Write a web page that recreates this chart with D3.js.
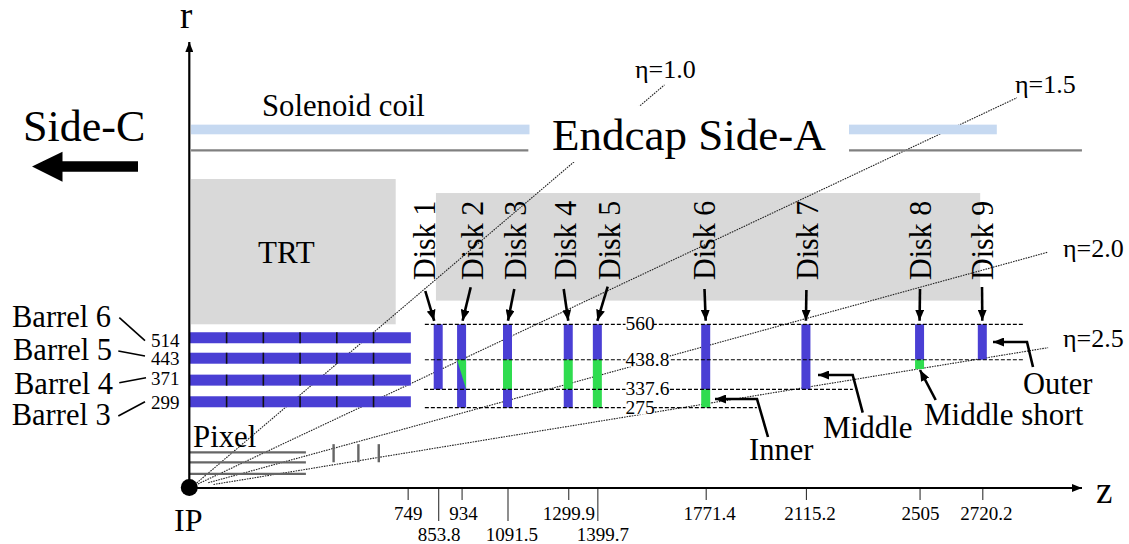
<!DOCTYPE html>
<html>
<head>
<meta charset="UTF-8">
<title>Endcap Side-A layout</title>
<script src="https://d3js.org/d3.v7.min.js"></script>
<style>
html, body { margin: 0; padding: 0; background: #fff; }
svg { display: block; }
text { font-family: "Liberation Serif", serif; fill: #000; }
</style>
</head>
<body>
<div id="chart"></div>
<script>
// all lengths in mm
var shortTicks = [749, 934, 1299.9, 1771.4, 2115.2, 2505, 2720.2];
var longTicks = [853.8, 1091.5, 1399.7];

var barrelNames = ["Barrel 6", "Barrel 5", "Barrel 4", "Barrel 3"];
var barrelLabels = [514, 443, 371, 299];
var barrelDrawnR = [514, 444, 369, 295]; // where the bars sit in the drawing, not quite to scale
var barrelEnd = 760;
var moduleEdges = [128, 254, 380, 506, 632];

var diskNames = ["Disk 1", "Disk 2", "Disk 3", "Disk 4", "Disk 5", "Disk 6", "Disk 7", "Disk 8", "Disk 9"];
var diskZ = [853.8, 934, 1091.5, 1299.9, 1399.7, 1771.4, 2115.2, 2505, 2720.2];

// ring limits per disk: [disk index, rMin, rMax, kind]
var ringSegments = [
  [0, 337.6, 560, "m"],
  [1, 275, 560, "m"],
  [2, 438.8, 560, "m"], [2, 337.6, 438.8, "s"], [2, 275, 337.6, "m"],
  [3, 438.8, 560, "m"], [3, 337.6, 438.8, "s"], [3, 275, 337.6, "m"],
  [4, 438.8, 560, "m"], [4, 275, 438.8, "s"],
  [5, 337.6, 560, "m"], [5, 275, 337.6, "s"],
  [6, 337.6, 560, "m"],
  [7, 438.8, 560, "m"], [7, 407, 438.8, "s"],
  [8, 438.8, 560, "m"]
];

var refRadii = [560, 438.8, 337.6, 275];
var refLabels = ["560", "438.8", "337.6", "275"];
var refStart = [808, 808, 805, 808];
var refEnd = [2863, 2863, 2276, 1947];

var etaLabels = ["η=1.0", "η=1.5", "η=2.0", "η=2.5"];
var etaStart = [[25, 17], [30, 14], [65, 18], [83, 12]];
var etaEnd = [[1630, 1379], [2839, 1335], [2946, 807], [2946, 480]];

var pixelBarrelR = [122, 88, 48];
var pixelBarrelEnd = 400;
var pixelDiskZ = [495, 580, 650];
var pixelDiskR = [88, 150];

var trtBox = [6, 708, 560, 1057];
var endcapBox = [846, 2713, 641, 1009];
var coilR = [1210, 1243];
var coilZ = [[6, 1167], [2263, 2770]];
var cryoR = 1155;
var cryoZ = [[6, 1163], [2263, 3062]];

var W = 1129, H = 544;
var x = d3.scaleLinear().domain([0, 2720.2]).range([189.3, 982.3]);
var y = d3.scaleLinear().domain([0, 560]).range([488, 324.3]);

var BLUE = "#4a3fd4", GREEN = "#2fdc4f", GREY = "#d9d9d9", COIL = "#c6d9f1";

var svg = d3.select("#chart").append("svg").attr("width", W).attr("height", H);

var defs = svg.append("defs");
function marker(id, w, h) {
  defs.append("marker").attr("id", id)
    .attr("viewBox", "0 0 " + w + " " + h)
    .attr("refX", w).attr("refY", h / 2)
    .attr("markerWidth", w).attr("markerHeight", h)
    .attr("markerUnits", "userSpaceOnUse")
    .attr("orient", "auto")
    .append("path").attr("d", "M0,0L" + w + "," + (h / 2) + "L0," + h + "Z").attr("fill", "#000");
}
marker("head", 11, 9);
marker("axisHead", 10, 8);

function box(g, b, fill) {
  g.append("rect")
    .attr("x", x(b[0])).attr("width", x(b[1]) - x(b[0]))
    .attr("y", y(b[3])).attr("height", y(b[2]) - y(b[3]))
    .attr("fill", fill);
}

// grey volumes
box(svg, trtBox, GREY);
box(svg, endcapBox, GREY);

// eta lines
svg.append("g").selectAll("line").data(etaStart).join("line")
  .attr("x1", d => x(d[0])).attr("y1", d => y(d[1]))
  .attr("x2", (d, i) => x(etaEnd[i][0])).attr("y2", (d, i) => y(etaEnd[i][1]))
  .attr("stroke", "#222").attr("stroke-width", 1.1).attr("stroke-dasharray", "1.6 1");

// white patch behind the title cuts the eta=1 line
svg.append("rect").attr("x", 540).attr("y", 106).attr("width", 300).attr("height", 56).attr("fill", "#fff");

// coil and cryostat
coilZ.forEach(z => box(svg, [z[0], z[1], coilR[0], coilR[1]], COIL));
svg.append("g").selectAll("line").data(cryoZ).join("line")
  .attr("x1", d => x(d[0])).attr("x2", d => x(d[1]))
  .attr("y1", y(cryoR)).attr("y2", y(cryoR))
  .attr("stroke", "#808080").attr("stroke-width", 2.4);

// pixel detector
svg.append("g").selectAll("line").data(pixelBarrelR).join("line")
  .attr("x1", x(0)).attr("x2", x(pixelBarrelEnd))
  .attr("y1", d => y(d)).attr("y2", d => y(d))
  .attr("stroke", "#666").attr("stroke-width", 2.2);
svg.append("g").selectAll("line").data(pixelDiskZ).join("line")
  .attr("x1", d => x(d)).attr("x2", d => x(d))
  .attr("y1", y(pixelDiskR[0])).attr("y2", y(pixelDiskR[1]))
  .attr("stroke", "#666").attr("stroke-width", 2.4);

// barrel layers
var barrelH = 11;
var barrels = svg.append("g");
barrels.selectAll("rect").data(barrelDrawnR).join("rect")
  .attr("x", x(0)).attr("width", x(barrelEnd) - x(0))
  .attr("y", d => y(d) - barrelH / 2).attr("height", barrelH)
  .attr("fill", BLUE);
barrelDrawnR.forEach(function(r) {
  barrels.append("g").selectAll("line").data(moduleEdges).join("line")
    .attr("x1", d => x(d)).attr("x2", d => x(d))
    .attr("y1", y(r) - barrelH / 2).attr("y2", y(r) + barrelH / 2)
    .attr("stroke", "#111").attr("stroke-width", 1.6);
});

// disks
var diskW = 9;
var disks = svg.append("g");
disks.selectAll("rect").data(ringSegments).join("rect")
  .attr("x", d => x(diskZ[d[0]]) - diskW / 2).attr("width", diskW)
  .attr("y", d => y(d[2])).attr("height", d => y(d[1]) - y(d[2]))
  .attr("fill", d => d[3] == "m" ? BLUE : GREEN);
// wedge on disk 2
var wx = x(diskZ[1]);
disks.append("path")
  .attr("d", d3.line()([[wx - diskW / 2, y(438.8)], [wx + diskW / 2, y(438.8)], [wx + diskW / 2, y(337.6)]]) + "Z")
  .attr("fill", GREEN);

// dashed radii with their labels
svg.append("g").selectAll("line").data(refRadii).join("line")
  .attr("x1", (d, i) => x(refStart[i])).attr("x2", (d, i) => x(refEnd[i]))
  .attr("y1", d => y(d)).attr("y2", d => y(d))
  .attr("stroke", "#000").attr("stroke-width", 1.2).attr("stroke-dasharray", "4 2");
var refG = svg.append("g").selectAll("g").data(refRadii).join("g")
  .attr("transform", d => "translate(625.5," + y(d) + ")");
refG.append("rect")
  .attr("x", 0).attr("y", -7).attr("height", 14)
  .attr("width", (d, i) => refLabels[i].length > 3 ? 44 : 28)
  .attr("fill", "#fff");
refG.append("text").attr("y", 6).attr("font-size", 19.5).text((d, i) => refLabels[i]);

// axes
var axisG = svg.append("g");
var shortAxis = d3.axisBottom(x).tickValues(shortTicks).tickSize(12).tickPadding(0).tickFormat(d => d);
var longAxis = d3.axisBottom(x).tickValues(longTicks).tickSize(33).tickPadding(0).tickFormat(d => d);
function styleAxis(g, baseline, nudge) {
  g.select(".domain").remove();
  g.selectAll(".tick line").attr("stroke", "#333").attr("stroke-width", 1.1);
  g.selectAll(".tick text")
    .attr("font-family", "Liberation Serif").attr("font-size", 19)
    .attr("y", baseline).attr("dy", 0)
    .attr("dx", (d, i) => nudge[i]);
}
axisG.append("g").attr("transform", "translate(0," + y(0) + ")").call(shortAxis)
  .call(styleAxis, 32, [0, 1.5, 0, 3.5, 3.5, 0.5, 3.5]);
axisG.append("g").attr("transform", "translate(0," + y(0) + ")").call(longAxis)
  .call(styleAxis, 53, [0.5, 4, 5]);

axisG.append("line")
  .attr("x1", x(0)).attr("x2", 1082).attr("y1", y(0)).attr("y2", y(0))
  .attr("stroke", "#000").attr("stroke-width", 2.2).attr("marker-end", "url(#axisHead)");
axisG.append("line")
  .attr("x1", x(0)).attr("x2", x(0)).attr("y1", y(0)).attr("y2", 42)
  .attr("stroke", "#000").attr("stroke-width", 2.2).attr("marker-end", "url(#axisHead)");
svg.append("circle").attr("cx", x(0)).attr("cy", y(0) - 0.5).attr("r", 8.5).attr("fill", "#000");

// Side-C block arrow
svg.append("path")
  .attr("d", d3.line()([[32, 166.5], [62.5, 151.7], [62.5, 161.3], [138, 161.3], [138, 171.7], [62.5, 171.7], [62.5, 181.7]]) + "Z")
  .attr("fill", "#000");

// leaders and arrows
function leader(pts, head) {
  svg.append("path").attr("d", d3.line()(pts))
    .attr("fill", "none").attr("stroke", "#000").attr("stroke-width", head ? 2.6 : 1.6)
    .attr("marker-end", head ? "url(#head)" : null);
}
var barrelLeaders = [
  [[119.3, 317.7], [145, 340.7]],
  [[118.3, 351], [145, 356]],
  [[119.3, 382.7], [146, 377.7]],
  [[118.3, 416], [145, 401.7]]
];
barrelLeaders.forEach(p => leader(p, false));

var diskArrowTail = [[425.3, 291], [470.7, 287.3], [514.3, 289], [563.7, 289], [607.7, 286.7], [704.5, 289], [806.4, 290], [920, 289], [982, 287]];
var diskTipShift = [-4, 1, 0.5, 0, 0, 0, 0, 0, 0];
diskZ.forEach(function(z, i) {
  leader([diskArrowTail[i], [x(z) + diskTipShift[i], y(560) - 3.5]], true);
});
leader([[1033, 367], [1027, 342], [993, 342]], true);
leader([[862.7, 412.7], [852.7, 375], [818, 375]], true);
leader([[768, 437], [757, 399], [715, 399]], true);
leader([[935.7, 400], [920, 370]], true);

// labels
function label(txt, px, py, size) {
  return svg.append("text").attr("x", px).attr("y", py).attr("font-size", size).text(txt);
}
label("r", 180, 28, 37);
label("z", 1096, 503, 37);
label("IP", 174, 531, 32);
label("Side-C", 23, 141, 44);
label("Solenoid coil", 262, 116, 30.7);
label("Endcap Side-A", 552, 150, 45);
label("TRT", 258, 263, 31);
label("Pixel", 193, 447, 30.8);
label("Outer", 1023, 394, 30.5);
label("Middle", 823, 438, 31);
label("Middle short", 924, 425, 31);
label("Inner", 749, 460, 30.5);

var barrelX = [12, 13, 14, 11.7];
var barrelY = [327, 359.5, 393.5, 425];
barrelNames.forEach((n, i) => label(n, barrelX[i], barrelY[i], 30.5));
var numY = [346.7, 364.5, 385, 409];
barrelLabels.forEach((r, i) => label(r, 151, numY[i], 19));

var etaPos = [[635, 78], [1015, 93], [1063, 257], [1063, 347]];
etaLabels.forEach((n, i) => label(n, etaPos[i][0], etaPos[i][1], 26));

var diskLabelX = [435, 482.7, 526, 575.7, 620, 715, 818, 931, 993];
diskNames.forEach(function(n, i) {
  svg.append("text")
    .attr("transform", "translate(" + diskLabelX[i] + ",280) rotate(-90) scale(1,1.08)")
    .attr("font-size", 30).text(n);
});
</script>
</body>
</html>
